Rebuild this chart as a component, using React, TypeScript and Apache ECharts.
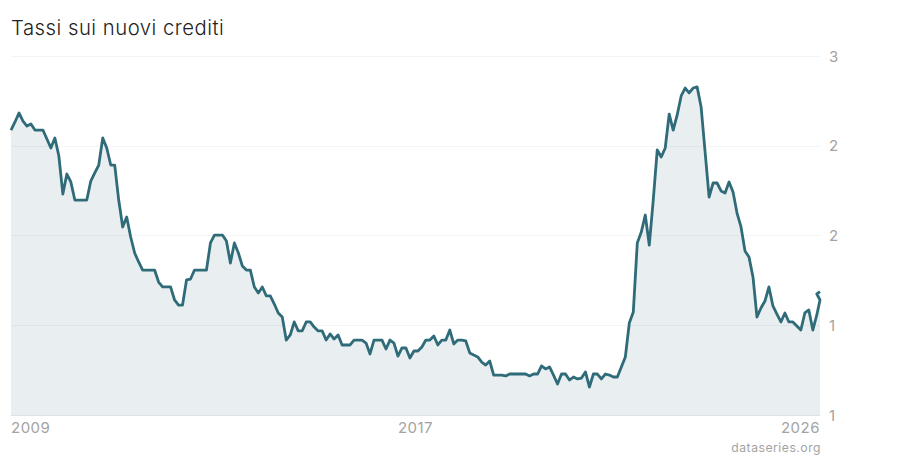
import { useEffect, useRef } from 'react';
import * as echarts from 'echarts';

const rates = [
  2.505, 2.559, 2.619, 2.565, 2.532, 2.545, 2.505, 2.505, 2.505, 2.445, 2.385, 2.452,
  2.331, 2.077, 2.211, 2.158, 2.037, 2.037, 2.037, 2.037, 2.164, 2.218, 2.271, 2.452,
  2.385, 2.271, 2.271, 2.037, 1.857, 1.924, 1.79, 1.683, 1.623, 1.569, 1.569, 1.569,
  1.569, 1.489, 1.456, 1.456, 1.456, 1.369, 1.335, 1.335, 1.503, 1.509, 1.569, 1.569,
  1.569, 1.569, 1.75, 1.803, 1.803, 1.803, 1.763, 1.616, 1.75, 1.683, 1.596, 1.569,
  1.569, 1.456, 1.416, 1.456, 1.396, 1.396, 1.342, 1.282, 1.255, 1.101, 1.135, 1.222,
  1.162, 1.162, 1.222, 1.222, 1.188, 1.162, 1.162, 1.101, 1.142, 1.108, 1.135, 1.068,
  1.068, 1.068, 1.101, 1.101, 1.101, 1.081, 1.008, 1.101, 1.101, 1.101, 1.041, 1.101,
  1.081, 0.994, 1.048, 1.048, 0.981, 1.028, 1.028, 1.055, 1.101, 1.101, 1.128, 1.068,
  1.101, 1.101, 1.168, 1.075, 1.101, 1.101, 1.095, 1.015, 1.001, 0.988, 0.954, 0.934,
  0.961, 0.867, 0.867, 0.867, 0.861, 0.874, 0.874, 0.874, 0.874, 0.874, 0.861, 0.874,
  0.874, 0.928, 0.908, 0.921, 0.867, 0.807, 0.874, 0.874, 0.834, 0.854, 0.841, 0.847,
  0.888, 0.787, 0.874, 0.874, 0.841, 0.874, 0.867, 0.854, 0.854, 0.921, 0.988, 1.215,
  1.289, 1.75, 1.823, 1.937, 1.736, 2.037, 2.372, 2.325, 2.385, 2.612, 2.505, 2.606,
  2.733, 2.786, 2.753, 2.786, 2.793, 2.659, 2.358, 2.057, 2.151, 2.151, 2.098, 2.084,
  2.158, 2.091, 1.95, 1.857, 1.696, 1.656, 1.523, 1.255, 1.315, 1.362, 1.456, 1.329,
  1.275, 1.222, 1.282, 1.222, 1.222, 1.195, 1.168, 1.282, 1.302, 1.168, 1.269,
];
// the series doubles back on itself at the very end
const tail = [
  [202.8, 1.369],
  [202.0, 1.409],
  [202.8, 1.425],
];
const yearTicks = [0, 101.4, 202.8];
const yearLabels = ['2009', '2017', '2026'];

export default function App() {
  const ref = useRef<HTMLDivElement>(null);

  useEffect(() => {
    if (!ref.current) return;
    const chart = echarts.init(ref.current, null, { renderer: 'svg' });
    const font = 'Inter';

    chart.setOption({
      animation: false,
      backgroundColor: '#fff',
      title: {
        text: 'Tassi sui nuovi crediti',
        left: 11,
        top: 17,
        padding: 0,
        textStyle: { fontFamily: font, fontSize: 20.3, fontWeight: 300, color: '#222' },
      },
      grid: { left: 11, right: 80, top: 56, bottom: 45 },
      xAxis: {
        type: 'value',
        min: 0,
        max: 202.8,
        splitLine: { show: false },
        axisTick: { show: false },
        axisLine: { show: true, lineStyle: { color: '#dfe3e6', width: 1 } },
        axisLabel: {
          customValues: yearTicks,
          formatter: (v: number) => yearLabels[yearTicks.indexOf(v)],
          alignMinLabel: 'left',
          alignMaxLabel: 'right',
          margin: 5,
          color: '#a3a3a3',
          fontFamily: font,
          fontSize: 15,
        },
      },
      yAxis: {
        type: 'value',
        position: 'right',
        min: 0.6,
        max: 3,
        interval: 0.6,
        axisLine: { show: false },
        axisTick: { show: false },
        splitLine: { lineStyle: { color: '#f4f4f4', width: 1 } },
        axisLabel: {
          formatter: (v: number) => String(Math.round(v)),
          margin: 9,
          color: '#a3a3a3',
          fontFamily: font,
          fontSize: 15,
        },
      },
      series: [
        {
          type: 'line',
          showSymbol: false,
          data: [...rates.map((v, i) => [i, v]), ...tail],
          lineStyle: { color: '#2f6b78', width: 2.8, join: 'round' },
          areaStyle: { color: '#2f6b78', opacity: 0.105, origin: 'start' },
        },
      ],
      graphic: [
        {
          type: 'text',
          x: 821,
          y: 441,
          style: {
            text: 'dataseries.org',
            fill: '#a3a3a3',
            font: `12.2px ${font}`,
            textAlign: 'right',
          },
        },
      ],
    });

    return () => chart.dispose();
  }, []);

  return (
    <div
      ref={ref}
      style={{ position: 'fixed', left: 0, top: 0, width: 900, height: 460, letterSpacing: 0.5 }}
    />
  );
}
